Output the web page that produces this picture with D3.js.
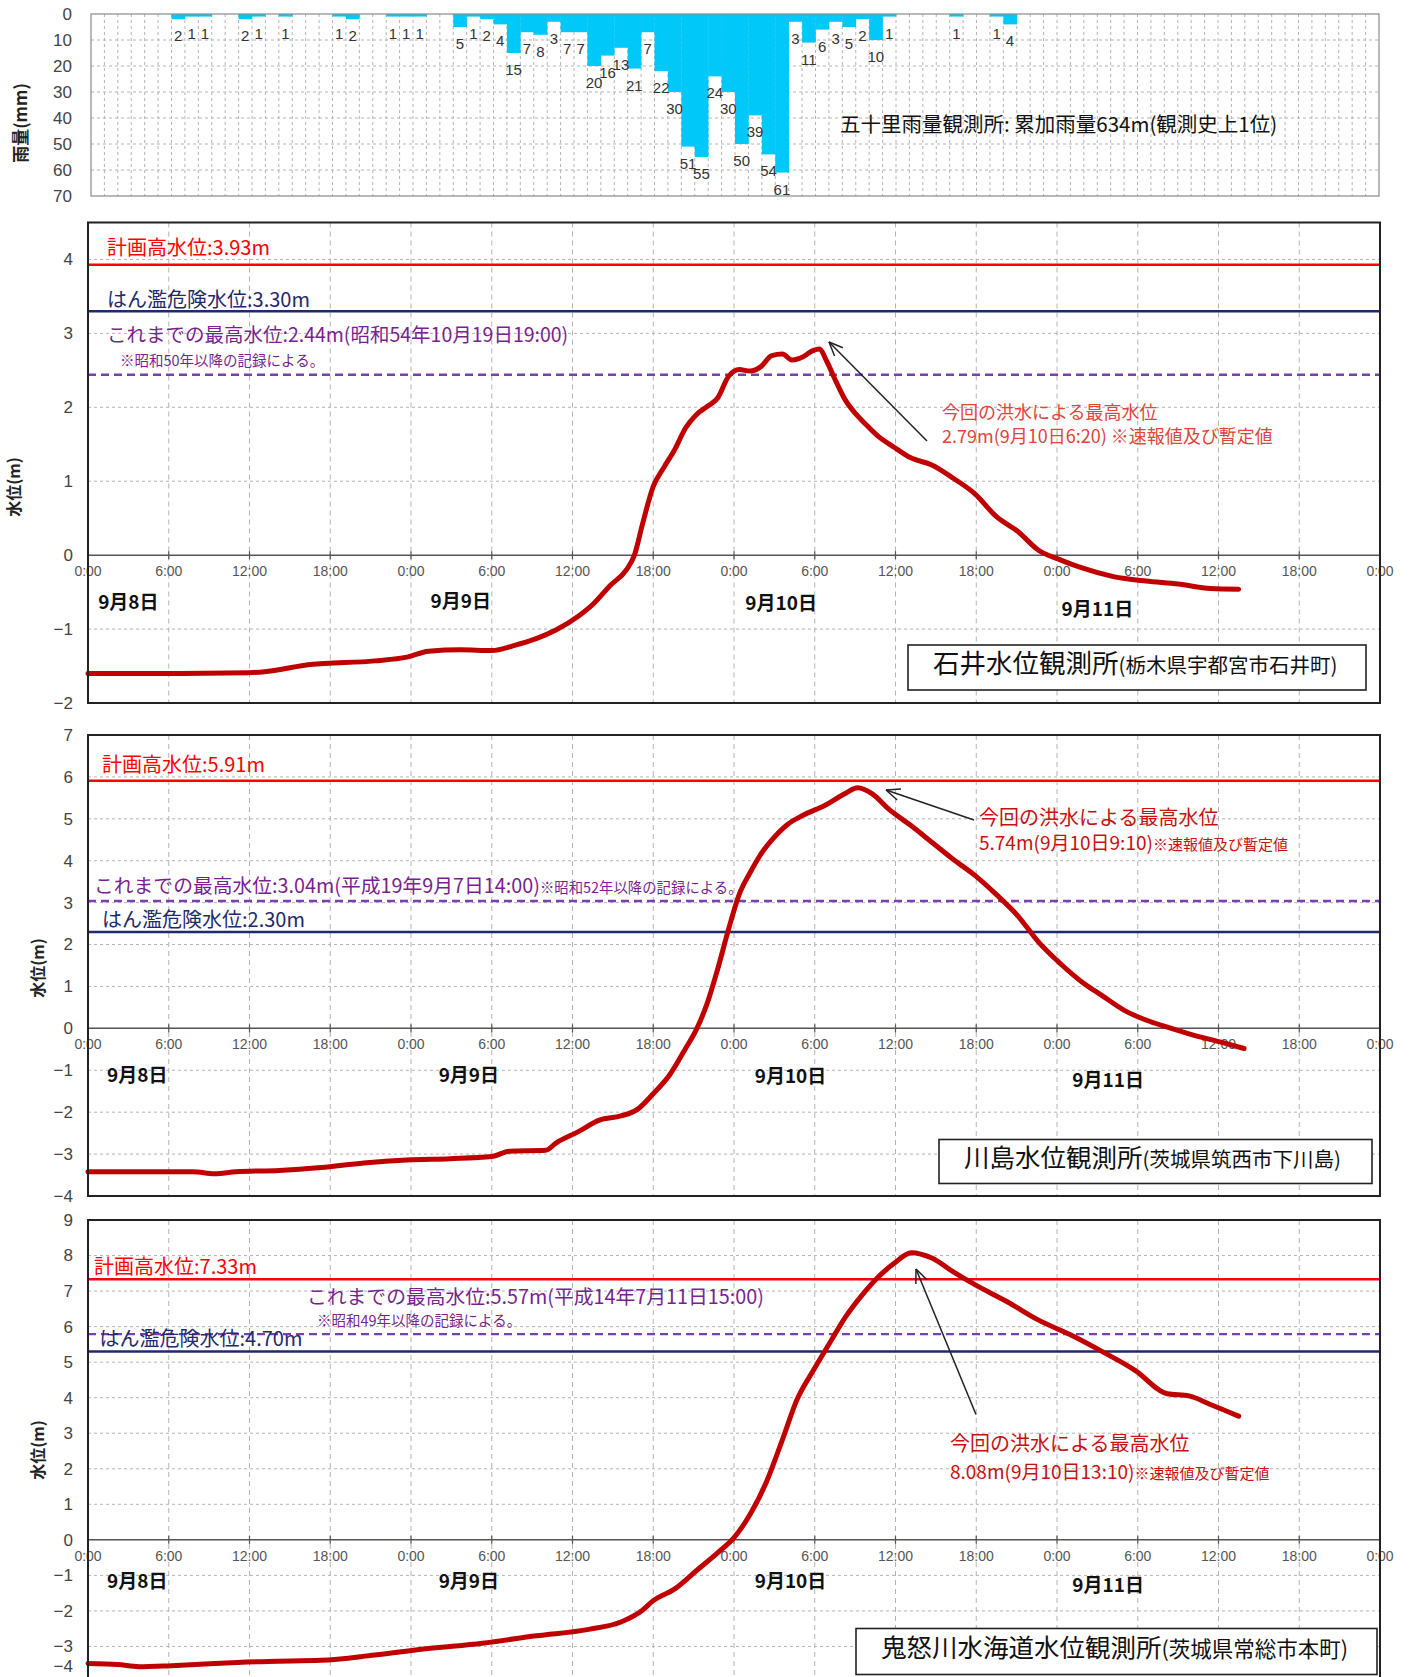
<!DOCTYPE html>
<html><head><meta charset="utf-8">
<script src="https://cdn.jsdelivr.net/npm/d3@7"></script>
<style>
body{margin:0;background:#fff;}
text{font-family:"Noto Sans CJK JP","Noto Sans",sans-serif;}
</style>
</head><body>
<svg id="c" width="1412" height="1677"></svg>
<script>
// ---------------- DATA ----------------
// hourly rainfall (mm) at 五十里, 9/8 0:00 .. 9/12 0:00 (96 hours)
const rainValues = [
 0,0,0,0,0,0,2,1,1,0,0,2,1,0,1,0,0,0,1,2,0,0,1,1,
 1,0,0,5,1,2,4,15,7,8,3,7,7,20,16,13,21,7,22,30,51,55,24,30,
 50,39,54,61,3,11,6,3,5,2,10,1,0,0,0,0,1,0,0,1,4,0,0,0,
 0,0,0,0,0,0,0,0,0,0,0,0,0,0,0,0,0,0,0,0,0,0,0,0];
const rainTicks = [0,10,20,30,40,50,60,70];
const timeTickLabels = ["0:00","6:00","12:00","18:00","0:00","6:00","12:00","18:00","0:00","6:00","12:00","18:00","0:00","6:00","12:00","18:00","0:00"];
const dateLabels = ["9月8日","9月9日","9月10日","9月11日"];

// 石井 water level (hours from 9/8 0:00, m)
const ishiiT = [0,6,12,13.4,16.5,21.3,23.7,25.3,27.7,30,31.7,33.3,34.8,36.4,37.6,38.8,40,40.6,41.2,42,42.8,43.6,44.4,45.2,46,46.8,47.6,48.4,49.2,50,50.8,51.6,52.3,53.1,53.9,54.33,54.9,55.5,56.3,57.1,57.9,58.7,59.9,61.1,62.7,64.3,65.9,67.5,69.1,70.6,72.2,73.8,76.2,78.6,81,83.4,85.5];
const ishiiV = [-1.6,-1.6,-1.59,-1.57,-1.48,-1.43,-1.38,-1.3,-1.28,-1.29,-1.22,-1.13,-1.01,-0.83,-0.65,-0.41,-0.2,0,0.42,0.93,1.19,1.43,1.72,1.9,2.01,2.13,2.42,2.51,2.49,2.55,2.7,2.72,2.64,2.68,2.77,2.79,2.62,2.38,2.09,1.9,1.75,1.61,1.46,1.32,1.22,1.04,0.83,0.52,0.32,0.07,-0.06,-0.17,-0.29,-0.35,-0.39,-0.45,-0.46];

// 川島 water level
const kawashimaT = [0,7.8,9.4,11,14.2,17.3,20.5,23.7,26.9,30,31.3,34,34.8,36.4,38,39.6,40.8,42,43.2,44.4,45.2,46,46.8,47.6,48.4,49.2,50,50.8,52,53.1,54.7,56.3,57.17,58.3,59.5,61.1,62.7,64.3,65.9,67.5,69.1,70.6,72.2,73.8,75.4,77,78.6,80.2,81.8,84.2,85.9];
const kawashimaV = [-3.42,-3.42,-3.47,-3.42,-3.39,-3.32,-3.21,-3.14,-3.11,-3.06,-2.93,-2.91,-2.73,-2.47,-2.19,-2.09,-1.94,-1.56,-1.12,-0.48,-0.03,0.59,1.43,2.37,3.21,3.72,4.16,4.49,4.87,5.08,5.31,5.61,5.74,5.59,5.23,4.85,4.44,4.03,3.65,3.19,2.68,2.07,1.56,1.12,0.77,0.43,0.2,0.03,-0.13,-0.33,-0.48];

// 水海道 water level
const mitsukaidoT = [0,2.2,3.8,6.2,9.4,13.4,17.3,21.3,25.3,29.3,33.3,37.2,39.6,41.2,42,43.6,45.2,46.8,48,49.2,50.4,51.6,52.7,53.9,55.1,56.3,57.5,58.7,59.9,61.17,62.7,64.3,65.9,68.3,70.6,73,75.4,77.8,80.2,81.8,83.4,85.5];
const mitsukaidoV = [-3.48,-3.51,-3.57,-3.54,-3.48,-3.42,-3.39,-3.24,-3.06,-2.91,-2.7,-2.52,-2.31,-1.98,-1.71,-1.38,-0.87,-0.36,0.06,0.72,1.62,2.82,3.96,4.77,5.53,6.28,6.88,7.39,7.78,8.08,7.93,7.54,7.18,6.7,6.19,5.77,5.29,4.77,4.11,4.05,3.81,3.48];

// reference levels [計画高水位, はん濫危険水位, これまでの最高水位(線)]
const ishiiLevels = [3.93, 3.30, 2.44];
const kawashimaLevels = [5.91, 2.30, 3.04];
const mitsukaidoLevels = [7.33, 5.30, 5.79];

// ---------------- DRAW ----------------
const svg = d3.select("#c");
const GRID = "#b4b4b4";
const X0 = 88, X1 = 1380;

// ---- rain chart ----
(function(){
  const x = d3.scaleBand().domain(d3.range(rainValues.length)).range([91,1379]).padding(0);
  const y = d3.scaleLinear().domain([0,70]).range([14,196]);
  const g = svg.append("g");
  g.selectAll(".vg").data(d3.range(1,rainValues.length)).join("line")
    .attr("x1",d=>x(d)).attr("x2",d=>x(d)).attr("y1",y(0)).attr("y2",y(70))
    .attr("stroke",GRID).attr("stroke-width",1).attr("stroke-dasharray","3,3");
  g.selectAll(".hg").data(rainTicks.slice(1,-1)).join("line")
    .attr("x1",91).attr("x2",1379).attr("y1",d=>y(d)).attr("y2",d=>y(d))
    .attr("stroke",GRID).attr("stroke-width",1).attr("stroke-dasharray","3,3");
  g.selectAll(".bar").data(rainValues).join("rect")
    .attr("x",(d,i)=>x(i)).attr("width",x.bandwidth()+0.3)
    .attr("y",y(0)).attr("height",d=>y(d)-y(0)).attr("fill","#00c8f8");
  g.append("rect").attr("x",91).attr("y",y(0)).attr("width",1288).attr("height",y(70)-y(0))
    .attr("fill","none").attr("stroke","#8a8a8a").attr("stroke-width",1.2);
  g.selectAll(".rl").data(rainValues.map((v,i)=>({v,i})).filter(d=>d.v>0)).join("text")
    .attr("x",d=>x(d.i)+x.bandwidth()/2).attr("y",d=>y(d.v)+22)
    .attr("text-anchor","middle").attr("font-size",15).attr("fill","#333")
    .style("font-family","Liberation Sans, sans-serif").text(d=>d.v);
  g.selectAll(".rt").data(rainTicks).join("text")
    .attr("x",72).attr("y",d=>y(d)).attr("dy","0.35em").attr("text-anchor","end")
    .attr("font-size",17).attr("fill","#444").style("font-family","Liberation Sans, sans-serif").text(d=>d);
  g.append("text").attr("transform","translate(21,123) rotate(-90)").attr("text-anchor","middle")
    .attr("dy","0.35em").attr("font-size",17).attr("font-weight","bold").attr("fill","#222").text("雨量(mm)");
  g.append("text").attr("x",840).attr("y",125).attr("dy","0.35em").attr("font-size",20.5).attr("fill","#111")
    .text("五十里雨量観測所: 累加雨量634m(観測史上1位)");
})();

// ---- water level panels ----
const x = d3.scaleLinear().domain([0,96]).range([X0,X1]);

function panel(cfg){
  const y = d3.scaleLinear().domain(cfg.domain).range([cfg.bottom, cfg.top]);
  const g = svg.append("g");
  const ticks = d3.range(cfg.domain[0], Math.floor(cfg.domain[1])+1);
  g.selectAll(".hg").data(ticks.filter(t=>t!==0 && y(t)>cfg.top+1 && y(t)<cfg.bottom-1)).join("line")
    .attr("x1",x(0)).attr("x2",x(96)).attr("y1",d=>y(d)).attr("y2",d=>y(d))
    .attr("stroke",GRID).attr("stroke-dasharray","3,3");
  g.selectAll(".vg").data(d3.range(6,96,6)).join("line")
    .attr("x1",d=>x(d)).attr("x2",d=>x(d)).attr("y1",cfg.top).attr("y2",cfg.bottom)
    .attr("stroke",GRID).attr("stroke-dasharray","5,4");
  g.append("line").attr("x1",x(0)).attr("x2",x(96)).attr("y1",y(0)).attr("y2",y(0))
    .attr("stroke","#555").attr("stroke-width",1.5);
  g.selectAll(".zt").data(d3.range(0,97,6)).join("line")
    .attr("x1",d=>x(d)).attr("x2",d=>x(d)).attr("y1",y(0)-4).attr("y2",y(0)+4)
    .attr("stroke","#555").attr("stroke-width",1.2);
  g.selectAll(".tl").data(timeTickLabels).join("text")
    .attr("x",(d,i)=>x(i*6)).attr("y",y(0)+16).attr("dy","0.35em").attr("text-anchor","middle")
    .attr("font-size",14).attr("fill","#555").style("font-family","Liberation Sans Narrow, sans-serif").text(d=>d);
  g.selectAll(".dl").data(dateLabels).join("text")
    .attr("x",(d,i)=>x(cfg.dateHours[i])).attr("y",(d,i)=>y(0)+cfg.dateDy[i]).attr("dy","0.35em")
    .attr("text-anchor","middle").attr("font-size",19).attr("font-weight","bold").attr("fill","#111").text(d=>d);
  const L = cfg.levels;
  g.append("line").attr("x1",x(0)).attr("x2",x(96)).attr("y1",y(L[0])).attr("y2",y(L[0]))
    .attr("stroke","#ff0000").attr("stroke-width",2.5);
  g.append("line").attr("x1",x(0)).attr("x2",x(96)).attr("y1",y(L[1])).attr("y2",y(L[1]))
    .attr("stroke","#1f2a6b").attr("stroke-width",2.5);
  g.append("line").attr("x1",x(0)).attr("x2",x(96)).attr("y1",y(L[2])).attr("y2",y(L[2]))
    .attr("stroke","#7a3fb0").attr("stroke-width",2.4).attr("stroke-dasharray","8,5");
  g.append("path").datum(cfg.t.map((t,i)=>[t,cfg.v[i]]))
    .attr("d",d3.line().x(d=>x(d[0])).y(d=>y(d[1])).curve(d3.curveMonotoneX))
    .attr("fill","none").attr("stroke","#c00000").attr("stroke-width",5)
    .attr("stroke-linejoin","round").attr("stroke-linecap","round");
  g.append("rect").attr("x",x(0)).attr("y",cfg.top).attr("width",x(96)-x(0)).attr("height",cfg.bottom-cfg.top)
    .attr("fill","none").attr("stroke","#222").attr("stroke-width",2);
  g.selectAll(".yt").data(ticks).join("text")
    .attr("x",73).attr("y",d=>Math.min(y(d),1666)).attr("dy","0.35em").attr("text-anchor","end")
    .attr("font-size",17).attr("fill","#444").style("font-family","Liberation Sans, sans-serif")
    .text(d=>d<0?"\u2212"+(-d):d);
  g.append("text").attr("transform",`translate(${cfg.titleX},${cfg.titleY}) rotate(-90)`)
    .attr("text-anchor","middle").attr("dy","0.35em").attr("font-size",16).attr("font-weight","bold").attr("fill","#222").text("水位(m)");
  const lab = (tx,ty,txt,col,fs,small,sfs)=>{
    const t = g.append("text").attr("x",tx).attr("y",ty).attr("dy","0.35em").attr("fill",col).attr("font-size",fs);
    t.append("tspan").text(txt);
    if(small) t.append("tspan").attr("font-size",sfs).text(small);
    return t;
  };
  cfg.texts.forEach(d=>lab(d.x, y(d.v)+d.dy, d.txt, d.col, d.fs, d.small, d.sfs));
  const a = cfg.arrow;
  g.append("line").attr("x1",a[0]).attr("y1",a[1]).attr("x2",a[2]).attr("y2",a[3]).attr("stroke","#222").attr("stroke-width",1.5);
  const ang = Math.atan2(a[1]-a[3], a[0]-a[2]);
  [0.4,-0.4].forEach(da=>{
    g.append("line").attr("x1",a[2]).attr("y1",a[3])
      .attr("x2",a[2]+15*Math.cos(ang+da)).attr("y2",a[3]+15*Math.sin(ang+da))
      .attr("stroke","#222").attr("stroke-width",1.5);
  });
  const b = cfg.box;
  g.append("rect").attr("x",b[0]).attr("y",b[1]).attr("width",b[2]).attr("height",b[3])
    .attr("fill","#fff").attr("stroke","#222").attr("stroke-width",1.6);
  const bt = g.append("text").attr("x",b[0]+25).attr("y",b[1]+b[3]/2).attr("dy","0.36em").attr("fill","#111");
  bt.append("tspan").attr("font-size",cfg.boxFs[0]).text(cfg.station);
  bt.append("tspan").attr("font-size",cfg.boxFs[1]).text(cfg.place);
}

const RED="#ff0000", NAVY="#1f2a6b", PURP="#7a1f8f", ANN1="#e0443a", ANN="#c81010";

panel({t:ishiiT, v:ishiiV, domain:[-2,4.5], top:222.5, bottom:703, levels:ishiiLevels, titleX:14, titleY:487,
  dateHours:[3.0,27.7,51.5,75.0], dateDy:[47,46,48.5,54],
  texts:[
    {x:107,v:ishiiLevels[0],dy:-16.6,txt:"計画高水位:3.93m",col:RED,fs:20},
    {x:107,v:ishiiLevels[1],dy:-11.6,txt:"はん濫危険水位:3.30m",col:NAVY,fs:20},
    {x:107,v:ishiiLevels[2],dy:-39.7,txt:"これまでの最高水位:2.44m(昭和54年10月19日19:00)",col:PURP,fs:19.5},
    {x:120,v:ishiiLevels[2],dy:-14,txt:"※昭和50年以降の記録による。",col:PURP,fs:14.5},
    {x:942,v:2.79,dy:64,txt:"今回の洪水による最高水位",col:ANN1,fs:18},
    {x:942,v:2.79,dy:87.7,txt:"2.79m(9月10日6:20)  ※速報値及び暫定値",col:ANN1,fs:18}
  ],
  arrow:[927,441,829,342], box:[908,645,458,45], boxFs:[26.5,20.5], station:"石井水位観測所", place:"(栃木県宇都宮市石井町)"});

panel({t:kawashimaT, v:kawashimaV, domain:[-4,7], top:735, bottom:1196, levels:kawashimaLevels, titleX:38, titleY:968,
  dateHours:[3.66,28.3,52.2,75.8], dateDy:[47,47,48,51.5],
  texts:[
    {x:102,v:kawashimaLevels[0],dy:-15.7,txt:"計画高水位:5.91m",col:RED,fs:20},
    {x:102,v:kawashimaLevels[1],dy:-12,txt:"はん濫危険水位:2.30m",col:NAVY,fs:20},
    {x:94,v:kawashimaLevels[2],dy:-15,txt:"これまでの最高水位:3.04m(平成19年9月7日14:00)",col:PURP,fs:19.8,small:"※昭和52年以降の記録による。",sfs:14.4},
    {x:979,v:5.74,dy:29.7,txt:"今回の洪水による最高水位",col:ANN,fs:20},
    {x:979,v:5.74,dy:56,txt:"5.74m(9月10日9:10)",col:ANN,fs:19,small:"※速報値及び暫定値",sfs:15}
  ],
  arrow:[974,820,886,790], box:[939,1139.5,433,44], boxFs:[25.5,20.5], station:"川島水位観測所", place:"(茨城県筑西市下川島)"});

panel({t:mitsukaidoT, v:mitsukaidoV, domain:[-4,9], top:1220, bottom:1682, levels:mitsukaidoLevels, titleX:38, titleY:1450,
  dateHours:[3.66,28.3,52.2,75.8], dateDy:[42,42,42,45.5],
  texts:[
    {x:94,v:mitsukaidoLevels[0],dy:-12,txt:"計画高水位:7.33m",col:RED,fs:20},
    {x:99.5,v:mitsukaidoLevels[1],dy:-12.8,txt:"はん濫危険水位:4.70m",col:NAVY,fs:20},
    {x:307,v:mitsukaidoLevels[2],dy:-37,txt:"これまでの最高水位:5.57m(平成14年7月11日15:00)",col:PURP,fs:19.8},
    {x:317,v:mitsukaidoLevels[2],dy:-13.6,txt:"※昭和49年以降の記録による。",col:PURP,fs:14.5},
    {x:950,v:8.08,dy:191.8,txt:"今回の洪水による最高水位",col:ANN,fs:20},
    {x:950,v:8.08,dy:219.5,txt:"8.08m(9月10日13:10)",col:ANN,fs:19,small:"※速報値及び暫定値",sfs:15}
  ],
  arrow:[976,1414.5,916,1269], box:[856,1628.5,521,46], boxFs:[25.5,21.5], station:"鬼怒川水海道水位観測所", place:"(茨城県常総市本町)"});
</script>
</body></html>
